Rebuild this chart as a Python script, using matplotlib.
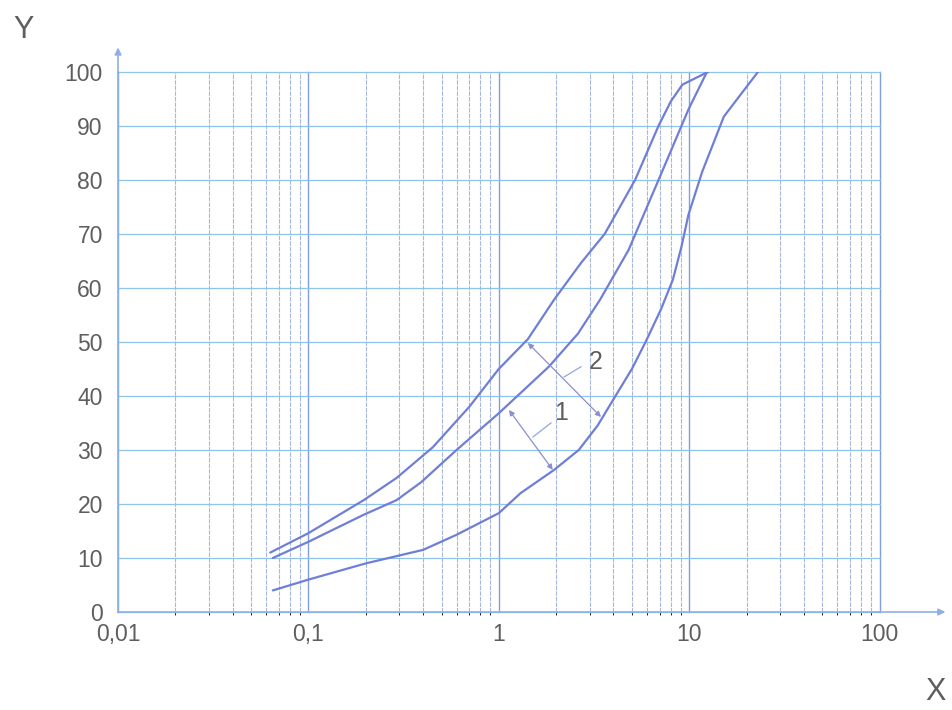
import numpy as np
import matplotlib.pyplot as plt
from matplotlib.ticker import FixedLocator, LogLocator, NullFormatter

# Curve data (x on log scale, y in %)
upper_x = [0.063, 0.1, 0.195, 0.29, 0.45, 0.7, 1.0, 1.42, 1.95, 2.7, 3.6, 5.2, 6.9, 8.0, 9.2, 12.6]
upper_y = [11, 14.6, 20.7, 24.8, 30.5, 38, 45.0, 50.5, 57.8, 64.6, 70, 80, 90, 94.5, 97.6, 100]

middle_x = [0.065, 0.1, 0.195, 0.29, 0.39, 0.6, 1.0, 1.83, 2.6, 3.4, 4.8, 7.1, 9.9, 12.4]
middle_y = [10, 13, 18, 20.7, 24, 30, 36.8, 45.4, 51.5, 57.8, 67, 81, 93, 100]

lower_x = [0.065, 0.1, 0.2, 0.4, 0.6, 1.0, 1.3, 1.95, 2.63, 3.3, 4.1, 5.0, 5.9, 7.1, 8.2, 9.1, 9.9, 11.7, 15.2, 19.5, 23.0]
lower_y = [4, 6, 9, 11.5, 14.3, 18.3, 22, 26.3, 30, 34.5, 40, 45, 50, 56, 61.5, 67.6, 73.5, 81.5, 91.7, 96.7, 100]

xticks = [0.01, 0.1, 1, 10, 100]
xtick_labels = ["0,01", "0,1", "1", "10", "100"]
yticks = list(range(0, 101, 10))

line_col = "#6f7fd6"
grid_col = "#a6b8dc"
text_col = "#5e5e5e"

plt.rcParams['font.family'] = ['Liberation Sans', 'DejaVu Sans']

fig = plt.figure(figsize=(9.52, 7.10), dpi=100)
ax = fig.add_axes([0.124, 0.138, 0.800, 0.761])

ax.set_xscale("log")
ax.set_xlim(0.01, 100)
ax.set_ylim(0, 100)

ax.xaxis.set_major_locator(FixedLocator(xticks))
ax.xaxis.set_minor_locator(LogLocator(base=10, subs=np.arange(2, 10)))
ax.xaxis.set_minor_formatter(NullFormatter())
ax.set_xticks(xticks, xtick_labels)
ax.set_yticks(yticks)

ax.grid(True, which="major", axis="x", color="#7f9fe0", lw=1.0)
ax.grid(True, which="minor", axis="x", color=grid_col, lw=0.8, ls=(0, (4, 1)))
ax.grid(True, which="major", axis="y", color="#8fc3e8", lw=0.9)
for gl in ax.get_xgridlines() + ax.get_ygridlines():
    gl.set_clip_on(False)

ax.tick_params(length=0, labelsize=16.5, labelcolor=text_col)
ax.tick_params(axis="x", pad=8)
ax.tick_params(axis="y", pad=11)
for s in ["top", "right"]:
    ax.spines[s].set_visible(False)
for s in ["left", "bottom"]:
    ax.spines[s].set_color("#8fb0e6")
    ax.spines[s].set_linewidth(1.2)

# axis arrows
ax.annotate("", xy=(0, 1.05), xytext=(0, 0.99), xycoords="axes fraction",
            arrowprops=dict(arrowstyle="-|>", color="#8fb0e6", lw=1.2, mutation_scale=10))
ax.annotate("", xy=(1.09, 0), xytext=(0.99, 0), xycoords="axes fraction",
            arrowprops=dict(arrowstyle="-|>", color="#8fb0e6", lw=1.2, mutation_scale=10))

for xs, ys in [(upper_x, upper_y), (middle_x, middle_y), (lower_x, lower_y)]:
    ax.plot(xs, ys, color=line_col, lw=1.6, solid_capstyle="round", solid_joinstyle="round")

# zone markers 1 and 2
dims = {
    "1": dict(a=(1.13, 37.4), b=(1.92, 26.3), l0=(1.51, 32.4), l1=(1.88, 35.0), t=(2.12, 36.8)),
    "2": dict(a=(1.42, 49.8), b=(3.44, 36.1), l0=(2.2, 43.5), l1=(2.7, 45.4), t=(3.24, 46.3)),
}
for lab, d in dims.items():
    ax.annotate("", xy=d["a"], xytext=d["b"],
                arrowprops=dict(arrowstyle="<|-|>", color="#8a8fd0", lw=0.9, mutation_scale=8,
                                shrinkA=0, shrinkB=0))
    ax.plot([d["l0"][0], d["l1"][0]], [d["l0"][1], d["l1"][1]], color="#8fa8e0", lw=0.9)
    ax.text(d["t"][0], d["t"][1], lab, fontsize=18, color=text_col, ha="center", va="center")

fig.text(24 / 952, 1 - 30 / 710, "Y", fontsize=22, color=text_col, ha="center", va="center")
fig.text(936 / 952, 1 - 692 / 710, "X", fontsize=22, color=text_col, ha="center", va="center")

fig.savefig("out.png", dpi=100)
